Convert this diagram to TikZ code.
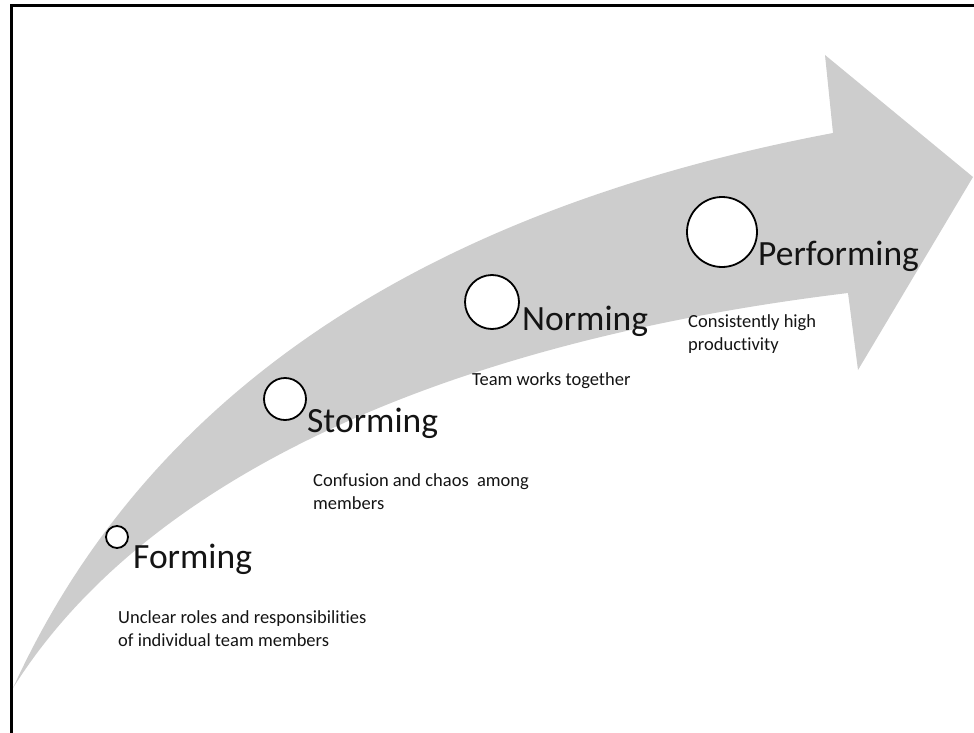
\documentclass[tikz,border=0pt]{standalone}
\usepackage{fontspec}
\setmainfont{Carlito}[Ligatures=NoCommon]
\definecolor{arrowgray}{RGB}{205,205,205}
\definecolor{inkgray}{RGB}{20,20,20}
\tikzset{
  stagecircle/.style={circle,draw=black,line width=1.8pt,fill=white,inner sep=0pt},
  stagetitle/.style={anchor=base west,inner sep=0pt,text=inkgray,font=\fontsize{35.5}{42}\selectfont},
  stagenote/.style={anchor=base west,inner sep=0pt,align=left,text=inkgray,font=\fontsize{18.5}{23}\selectfont},
}
\begin{document}
\begin{tikzpicture}[x=1pt,y=-1pt]
\useasboundingbox (0,0) rectangle (974,733);
% frame
\draw[line width=3pt] (11,733) -- (11,5.5) -- (974,5.5);
% big curved arrow
\fill[arrowgray] (13,688) .. controls (146,396) and (420,211) .. (833,133)
  -- (825,55) -- (973,177) -- (858,370) -- (848,293)
  .. controls (460,340) and (150,470) .. cycle;
% stages
\foreach \n/\cx/\cy/\r/\tx/\ty/\word in {form/117/537/11/133/568/Forming,storm/285/399/21/307/432/Storming,norm/492/302/27/522/330/Norming,perf/722/232/35/758/265/Performing}
{
\node[stagecircle,minimum size=\r*2pt] (c\n) at (\cx,\cy) {};
\node[stagetitle] (t\n) at (\tx,\ty) {\word};
}
% notes (anchor is the baseline of the last line)
\node[stagenote] (nform) at (118,646) {Unclear roles and responsibilities\\of individual team members};
\node[stagenote] (nstorm) at (313,509) {Confusion and chaos~ among\\members};
\node[stagenote] (nnorm) at (472,385) {Team works together};
\node[stagenote] (nperf) at (688,350) {Consistently high\\productivity};
\end{tikzpicture}
\end{document}
